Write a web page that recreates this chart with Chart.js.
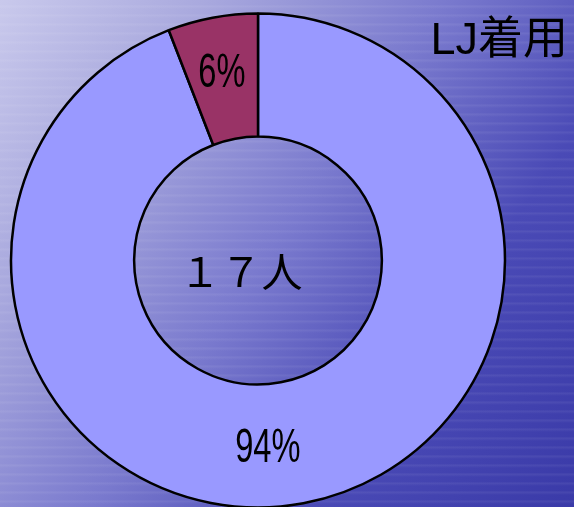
<!DOCTYPE html>
<html>
<head>
<meta charset="utf-8">
<script src="https://cdn.jsdelivr.net/npm/chart.js@4/dist/chart.umd.min.js"></script>
<style>
  html, body { margin: 0; padding: 0; }
  body {
    width: 574px; height: 507px; overflow: hidden;
    background:
      repeating-linear-gradient(180deg, rgba(255,255,255,0) 0px, rgba(255,255,255,0) 5px, rgba(255,255,255,0.07) 6px, rgba(255,255,255,0) 9px),
      linear-gradient(125deg, #c9c9ec 0%, #a9a9de 22%, #7a7ace 48%, #4a4ab6 72%, #3a3aa8 100%);
  }
  #wrap { position: absolute; left: 0; top: 0; width: 574px; height: 507px; }
</style>
</head>
<body>
<div id="wrap"><canvas id="chart"></canvas></div>
<script>
var categories = ['着用', '未着用'];
var values = [16, 1];
var pctLabels = ['94%', '6%'];
var colors = ['#9999ff', '#993366'];
var titleText = 'LJ着用';
var centerText = '１７人';

var textPlugin = {
  id: 'texts',
  afterDraw: function (chart) {
    var ctx = chart.ctx;
    var arcs = chart.getDatasetMeta(0).data;
    var cx = arcs[0].x, cy = arcs[0].y;
    var rMid = (arcs[0].outerRadius + arcs[0].innerRadius) / 2;
    ctx.save();
    ctx.fillStyle = '#000';
    ctx.textAlign = 'center';
    ctx.textBaseline = 'middle';

    // percent labels (narrow)
    var angles = [177, null];
    arcs.forEach(function (arc, i) {
      var x, y;
      if (angles[i] !== null) {
        var a = angles[i] * Math.PI / 180;
        x = cx + (rMid + 3) * Math.sin(a);
        y = cy - (rMid + 3) * Math.cos(a);
      } else {
        var p = arc.tooltipPosition();
        x = p.x - 2; y = p.y - 4;
      }
      ctx.save();
      ctx.translate(x, y);
      ctx.scale(0.68, 1);
      ctx.font = '48px "Liberation Sans", Arial, sans-serif';
      ctx.fillText(pctLabels[i], 0, 0);
      ctx.restore();
    });

    // center text
    ctx.font = '41px "Noto Sans CJK JP", sans-serif';
    ctx.fillText(centerText, cx - 17, cy + 11);

    // title at top right
    ctx.textAlign = 'right';
    ctx.font = '45px "Liberation Sans", "Noto Sans CJK JP", sans-serif';
    ctx.fillText(titleText, 568, 42);
    ctx.restore();
  }
};

new Chart(document.getElementById('chart'), {
  type: 'doughnut',
  data: {
    labels: categories,
    datasets: [{
      data: values,
      backgroundColor: colors,
      borderColor: '#000',
      borderWidth: 2.5,
      hoverOffset: 0
    }]
  },
  options: {
    responsive: true,
    maintainAspectRatio: false,
    animation: false,
    radius: 247,
    cutout: 123,
    layout: { padding: { left: 0, right: 58, top: 14, bottom: 0 } },
    plugins: {
      legend: { display: false },
      tooltip: { enabled: false }
    }
  },
  plugins: [textPlugin]
});
</script>
</body>
</html>
